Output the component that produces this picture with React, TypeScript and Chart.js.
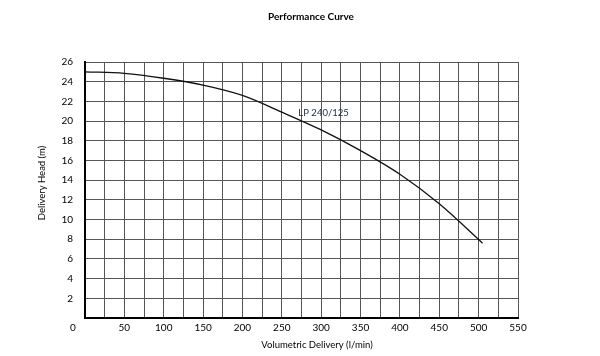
import React, { useEffect, useRef } from "react";
import { Chart, registerables } from "chart.js";

Chart.register(...registerables);

const flowValues = [0, 50, 100, 150, 200, 250, 300, 350, 400, 450, 505];
const headValues = [25.0, 24.85, 24.35, 23.65, 22.6, 20.9, 19.1, 17.0, 14.6, 11.6, 7.6];
const seriesLabel = "LP 240/125";
const labelPos = { x: 303, y: 20.8 };
const titleText = "Performance Curve";
const xTitle = "Volumetric Delivery (l/min)";
const yTitle = "Delivery Head (m)";
const FONT = "Lato, 'Open Sans', sans-serif";

export default function App() {
  const ref = useRef<HTMLCanvasElement | null>(null);
  useEffect(() => {
    if (!ref.current) return;
    const textPlugin = {
      id: "texts",
      afterDraw(chart: any) {
        const ctx = chart.ctx;
        const { left, bottom } = chart.chartArea;
        const xs = chart.scales.x;
        const ys = chart.scales.y;
        ctx.save();
        ctx.fillStyle = "#000";
        ctx.textAlign = "center";
        ctx.textBaseline = "middle";
        ctx.font = `bold 10px ${FONT}`;
        ctx.fillText(titleText, 311, 17);
        ctx.font = `9.5px ${FONT}`;
        ctx.fillText(xTitle, 317, 345);
        ctx.font = `10px ${FONT}`;
        ctx.fillText("0", left - 12, bottom + 10);
        ctx.save();
        ctx.translate(42, 183);
        ctx.rotate(-Math.PI / 2);
        ctx.font = `9.5px ${FONT}`;
        ctx.fillText(yTitle, 0, 0);
        ctx.restore();
        ctx.fillStyle = "#1f2a44";
        ctx.font = `9.5px ${FONT}`;
        ctx.fillText(seriesLabel, xs.getPixelForValue(labelPos.x), ys.getPixelForValue(labelPos.y));
        ctx.restore();
      },
    };
    const chart = new Chart(ref.current, {
      type: "line",
      data: {
        datasets: [
          {
            data: flowValues.map((x, i) => ({ x, y: headValues[i] })),
            borderColor: "#111",
            borderWidth: 1.3,
            pointRadius: 0,
            cubicInterpolationMode: "monotone",
            fill: false,
          },
        ],
      },
      options: {
        animation: false,
        responsive: false,
        maintainAspectRatio: false,
        layout: { padding: { top: 62, right: 82, left: 0, bottom: 0 } },
        plugins: { legend: { display: false }, tooltip: { enabled: false }, title: { display: false } },
        scales: {
          x: {
            type: "linear",
            min: 0,
            max: 550,
            afterFit: (s: any) => { s.height = 38; },
            ticks: {
              stepSize: 25,
              autoSkip: false,
              maxRotation: 0,
              padding: 4,
              color: "#000",
              font: { family: FONT, size: 10 },
              callback: (v: any) => (v % 50 === 0 && v !== 0 ? String(v) : ""),
            },
            grid: { color: "#555", lineWidth: 1, drawTicks: false },
            border: { color: "#000", width: 2 },
          },
          y: {
            min: 0,
            max: 26,
            afterFit: (s: any) => { s.width = 85; },
            ticks: {
              stepSize: 2,
              padding: 12,
              color: "#000",
              font: { family: FONT, size: 10 },
              callback: (v: any) => (v === 0 ? "" : String(v)),
            },
            grid: { color: "#555", lineWidth: 1, drawTicks: false },
            border: { color: "#000", width: 2 },
          },
        },
      },
      plugins: [textPlugin],
    } as any);
    return () => chart.destroy();
  }, []);
  return (
    <div style={{ position: "fixed", left: 0, top: 0, width: 600, height: 356, background: "#fff" }}>
      <canvas ref={ref} width={600} height={356} style={{ width: 600, height: 356 }} />
    </div>
  );
}
